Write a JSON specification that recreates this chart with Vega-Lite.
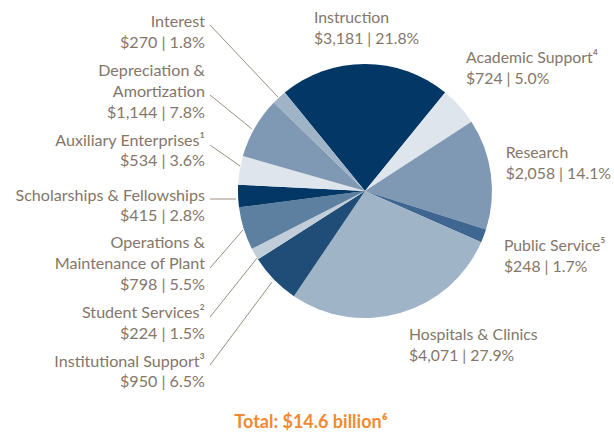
{
  "$schema": "https://vega.github.io/schema/vega-lite/v6.json",
  "width": 614,
  "height": 436,
  "padding": 0,
  "autosize": {"type": "none"},
  "background": "white",
  "view": {"stroke": null},
  "config": {"font": "Lato"},
  "datasets": {
    "slices": [
      {"seq": 1, "category": "Instruction", "value": 3181, "pct": 21.8},
      {"seq": 2, "category": "Academic Support", "value": 724, "pct": 5.0},
      {"seq": 3, "category": "Research", "value": 2058, "pct": 14.1},
      {"seq": 4, "category": "Public Service", "value": 248, "pct": 1.7},
      {"seq": 5, "category": "Hospitals & Clinics", "value": 4071, "pct": 27.9},
      {"seq": 6, "category": "Institutional Support", "value": 950, "pct": 6.5},
      {"seq": 7, "category": "Student Services", "value": 224, "pct": 1.5},
      {"seq": 8, "category": "Operations & Maintenance of Plant", "value": 798, "pct": 5.5},
      {"seq": 9, "category": "Scholarships & Fellowships", "value": 415, "pct": 2.8},
      {"seq": 10, "category": "Auxiliary Enterprises", "value": 534, "pct": 3.6},
      {"seq": 11, "category": "Depreciation & Amortization", "value": 1144, "pct": 7.8},
      {"seq": 12, "category": "Interest", "value": 270, "pct": 1.8}
    ],
    "labels": [
      {"category": "Interest", "name": "Interest", "side": "L", "lx": -126, "ly": 128.9, "x1": -122, "y1": 130.7, "x2": -68.5, "y2": 74.0},
      {"category": "Depreciation & Amortization", "name": "Depreciation &\nAmortization", "side": "L", "lx": -126, "ly": 90.6, "x1": -122, "y1": 75.6, "x2": -89.0, "y2": 48.8},
      {"category": "Auxiliary Enterprises", "name": "Auxiliary Enterprises¹", "side": "L", "lx": -126, "ly": 35.7, "x1": -122, "y1": 36.2, "x2": -98.4, "y2": 19.7},
      {"category": "Scholarships & Fellowships", "name": "Scholarships & Fellowships", "side": "L", "lx": -126, "ly": -7.6, "x1": -122, "y1": -6.3, "x2": -101.6, "y2": -6.3},
      {"category": "Operations & Maintenance of Plant", "name": "Operations &\nMaintenance of Plant", "side": "L", "lx": -126, "ly": -45.1, "x1": -122, "y1": -60.6, "x2": -96.1, "y2": -30.7},
      {"category": "Student Services", "name": "Student Services²", "side": "L", "lx": -126, "ly": -100.3, "x1": -122, "y1": -99.2, "x2": -85.0, "y2": -52.8},
      {"category": "Institutional Support", "name": "Institutional Support³", "side": "L", "lx": -126, "ly": -138.3, "x1": -122, "y1": -137.0, "x2": -73.2, "y2": -71.7},
      {"category": "Instruction", "name": "Instruction", "side": "R", "lx": -40.2, "ly": 132.5},
      {"category": "Academic Support", "name": "Academic Support⁴", "side": "R", "lx": 79.5, "ly": 100.5},
      {"category": "Research", "name": "Research", "side": "R", "lx": 110.8, "ly": 25.7},
      {"category": "Public Service", "name": "Public Service⁵", "side": "R", "lx": 109.4, "ly": -47.2},
      {"category": "Hospitals & Clinics", "name": "Hospitals & Clinics", "side": "R", "lx": 34.6, "ly": -117.3}
    ]
  },
  "layer": [
    {
      "data": {"name": "slices"},
      "mark": {"type": "arc", "outerRadius": 127},
      "encoding": {
        "x": {"datum": 0, "type": "quantitative", "scale": {"domain": [-287.4, 196.1], "nice": false, "zero": false}, "axis": null},
        "y": {"datum": 0, "type": "quantitative", "scale": {"domain": [-192.9, 150.4], "nice": false, "zero": false}, "axis": null},
        "theta": {"field": "value", "type": "quantitative", "stack": true, "scale": {"range": [-0.684, 5.5992]}},
        "order": {"field": "seq", "type": "quantitative"},
        "color": {
          "field": "category",
          "type": "nominal",
          "legend": null,
          "scale": {
            "domain": ["Instruction", "Academic Support", "Research", "Public Service", "Hospitals & Clinics", "Institutional Support", "Student Services", "Operations & Maintenance of Plant", "Scholarships & Fellowships", "Auxiliary Enterprises", "Depreciation & Amortization", "Interest"],
            "range": ["#033866", "#dee5ec", "#7f98b3", "#3e6690", "#a0b4c8", "#1f4d78", "#c1ceda", "#5d7fa0", "#033866", "#dee5ec", "#7f98b3", "#a0b4c8"]
          }
        }
      }
    },
    {
      "data": {"name": "labels"},
      "transform": [{"filter": "isValid(datum.x2)"}],
      "mark": {"type": "rule", "stroke": "#8f8172", "strokeWidth": 0.9},
      "encoding": {
        "x": {"field": "x1", "type": "quantitative"},
        "y": {"field": "y1", "type": "quantitative"},
        "x2": {"field": "x2"},
        "y2": {"field": "y2"}
      }
    },
    {
      "data": {"name": "labels"},
      "transform": [
        {"filter": "datum.side === 'L'"},
        {"lookup": "category", "from": {"data": {"name": "slices"}, "key": "category", "fields": ["value", "pct"]}},
        {"calculate": "datum.name + '\\n$' + format(datum.value, ',') + ' | ' + format(datum.pct, '.1f') + '%'", "as": "txt"}
      ],
      "mark": {"type": "text", "align": "right", "baseline": "alphabetic", "lineBreak": "\n", "lineHeight": 20.8, "fontSize": 16.1, "color": "#84766a"},
      "encoding": {
        "x": {"field": "lx", "type": "quantitative"},
        "y": {"field": "ly", "type": "quantitative"},
        "text": {"field": "txt", "type": "nominal"}
      }
    },
    {
      "data": {"name": "labels"},
      "transform": [
        {"filter": "datum.side === 'R'"},
        {"lookup": "category", "from": {"data": {"name": "slices"}, "key": "category", "fields": ["value", "pct"]}},
        {"calculate": "datum.name + '\\n$' + format(datum.value, ',') + ' | ' + format(datum.pct, '.1f') + '%'", "as": "txt"}
      ],
      "mark": {"type": "text", "align": "left", "baseline": "alphabetic", "lineBreak": "\n", "lineHeight": 20.8, "fontSize": 15.8, "color": "#84766a"},
      "encoding": {
        "x": {"field": "lx", "type": "quantitative"},
        "y": {"field": "ly", "type": "quantitative"},
        "text": {"field": "txt", "type": "nominal"}
      }
    },
    {
      "data": {"name": "slices"},
      "transform": [
        {"aggregate": [{"op": "sum", "field": "value", "as": "total"}]},
        {"calculate": "'Total: $' + format(datum.total / 1000, '.1f') + ' billion⁶'", "as": "txt"}
      ],
      "mark": {"type": "text", "align": "center", "baseline": "alphabetic", "fontSize": 18, "fontWeight": "bold", "color": "#f18a32"},
      "encoding": {
        "x": {"datum": -42.5, "type": "quantitative"},
        "y": {"datum": -186.6, "type": "quantitative"},
        "text": {"field": "txt", "type": "nominal"}
      }
    }
  ]
}
